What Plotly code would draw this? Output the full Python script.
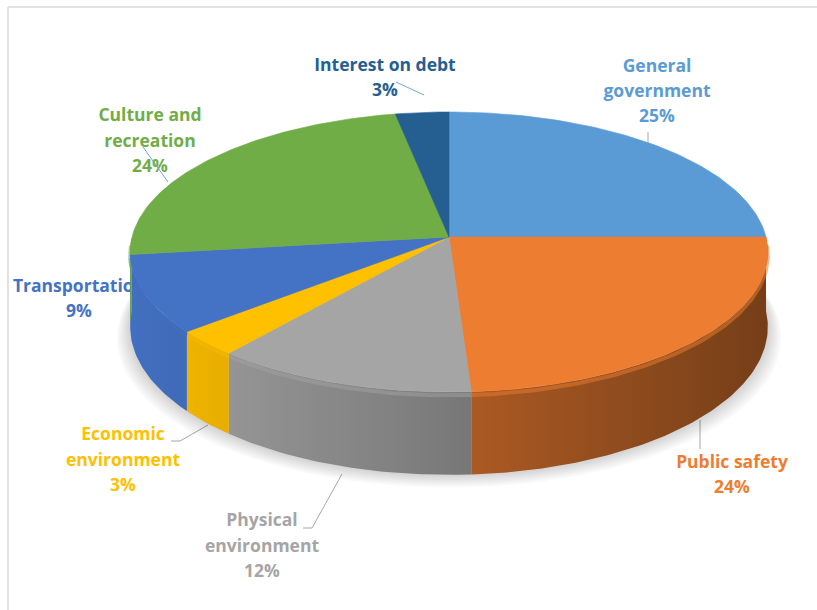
import numpy as np
import plotly.graph_objects as go

# ---- data -------------------------------------------------------------
categories = ["General government", "Public safety", "Physical environment",
              "Economic environment", "Transportation", "Culture and recreation",
              "Interest on debt"]
shares = [25, 24, 12, 3, 9, 24, 3]
slice_colors = ["#5B9BD5", "#ED7D31", "#A5A5A5", "#FFC000", "#4472C4", "#70AD47", "#255E91"]

# label text split into the lines it is drawn on
label_lines = [
    ["General", "government", "25%"],
    ["Public safety", "24%"],
    ["Physical", "environment", "12%"],
    ["Economic", "environment", "3%"],
    ["Transportation", "9%"],
    ["Culture and", "recreation", "24%"],
    ["Interest on debt", "3%"],
]

# ---- layout of the drawing (pixel space) ------------------------------
W, H = 817, 610
CX, CY = 449, 237        # pie centre on screen
RX, RY = 317, 138.4      # radii of the top face
K = 0.107                # perspective strength (near edge larger)
DEPTH = 74               # thickness of the disc

label_pos = [  # (x centre, y of first line, line step)
    (657, 68, 25),
    (732, 464, 25),
    (262, 522, 25.5),
    (123, 436, 25.5),
    (79, 288, 25),
    (150, 117, 25.5),
    (385, 67, 25),
]
leaders = [  # polylines joining labels to slices
    ([648, 648], [132, 146], "#A6A6A6"),
    ([700, 700], [420, 449], "#A6A6A6"),
    ([303, 312, 342], [528, 528, 474], "#A6A6A6"),
    ([171, 180, 208], [441, 441, 425], "#A6A6A6"),
    ([396, 424], [82, 95], "#6FA8DC"),
]
culture_leader = ([143, 168], [147, 182], "#6FA8DC")


def project(theta, drop=0.0):
    """Angle measured clockwise from the far side of the disc -> screen x, y."""
    u = np.sin(theta)
    v = -np.cos(theta)
    s = 1.0 / (1.0 - K * v)
    return CX + RX * u * s, CY + (RY * v + drop) * s


def shade(hex_color, f):
    h = hex_color.lstrip("#")
    r, g, b = (int(h[i:i + 2], 16) for i in (0, 2, 4))
    return "rgb(%d,%d,%d)" % (min(255, r * f), min(255, g * f), min(255, b * f))


def side_factor(u):
    # light comes from the left: wall darkens towards the right
    return 0.74 - 0.24 * u


fig = go.Figure()

# labels first so the disc can sit over them
tx, ty, tt, tc = [], [], [], []
for lines, (x0, y0, step), col in zip(label_lines, label_pos, slice_colors):
    for j, line in enumerate(lines):
        tx.append(x0)
        ty.append(y0 + j * step)
        tt.append(line)
        tc.append(col)
fig.add_trace(go.Scatter(
    x=tx, y=ty, text=tt, mode="text", textposition="middle center",
    textfont=dict(family="Open Sans", size=17.5, color=tc, weight="bold"),
    hoverinfo="skip", showlegend=False))

for xs, ys, col in leaders:
    fig.add_trace(go.Scatter(x=xs, y=ys, mode="lines", line=dict(color=col, width=1),
                             hoverinfo="skip", showlegend=False))

# soft shadow under the disc
full = np.linspace(0, 2 * np.pi, 240)
for j in range(7, 0, -1):
    sx, sy = project(full, DEPTH + 1.6 * j)
    sx = CX + (sx - CX) * (1 + 0.006 * j)
    fig.add_trace(go.Scatter(x=sx, y=sy, mode="lines", fill="toself",
                             fillcolor="rgba(0,0,0,0.022)", line=dict(width=0),
                             hoverinfo="skip", showlegend=False))

# slice angles
fractions = np.array(shares, dtype=float) / sum(shares)
edges = np.concatenate([[0.0], np.cumsum(fractions)]) * 2 * np.pi

# side wall: only the near half (pi/2 .. 3pi/2) is visible
ustops = np.linspace(-1, 1, 9)
for i, col in enumerate(slice_colors):
    a0 = max(edges[i], np.pi / 2)
    a1 = min(edges[i + 1], 3 * np.pi / 2)
    if a1 <= a0:
        continue
    seg = np.linspace(a0, a1, max(6, int((a1 - a0) * 60)))
    xt, yt = project(seg)
    xb, yb = project(seg[::-1], DEPTH)
    scale = [[(u + 1) / 2, shade(col, side_factor(u))] for u in ustops]
    fig.add_trace(go.Scatter(
        x=np.concatenate([xt, xb]), y=np.concatenate([yt, yb]),
        mode="lines", fill="toself",
        fillgradient=dict(type="horizontal", colorscale=scale,
                          start=CX - RX, stop=CX + RX),
        line=dict(width=0), hoverinfo="skip", showlegend=False))
    # lighter rim just under the top edge, kept inside the wall's outline
    r0 = a0 + (0.04 if a0 <= np.pi / 2 + 1e-9 else 0.0)
    r1 = a1 - (0.04 if a1 >= 3 * np.pi / 2 - 1e-9 else 0.0)
    rim = np.linspace(r0, r1, len(seg))
    rx_, ry_ = project(rim, 3)
    fig.add_trace(go.Scatter(x=rx_, y=ry_, mode="lines",
                             line=dict(color=shade(col, 0.97), width=4),
                             opacity=0.55, hoverinfo="skip", showlegend=False))

# top faces
for i, (name, col) in enumerate(zip(categories, slice_colors)):
    arc = np.linspace(edges[i], edges[i + 1], max(4, int(shares[i] * 4)))
    ax, ay = project(arc)
    fig.add_trace(go.Scatter(
        x=np.concatenate([[CX], ax, [CX]]), y=np.concatenate([[CY], ay, [CY]]),
        mode="lines", fill="toself", fillcolor=col, line=dict(color=col, width=0.6),
        name=name, hoverinfo="name", showlegend=False))

# leader drawn across the culture label
xs, ys, col = culture_leader
fig.add_trace(go.Scatter(x=xs, y=ys, mode="lines", line=dict(color=col, width=1),
                         hoverinfo="skip", showlegend=False))

fig.update_layout(
    width=W, height=H, autosize=False,
    margin=dict(l=0, r=0, t=0, b=0),
    paper_bgcolor="white", plot_bgcolor="white",
    xaxis=dict(range=[0, W], visible=False, fixedrange=True),
    yaxis=dict(range=[H, 0], visible=False, fixedrange=True),
    shapes=[
        dict(type="line", xref="x", yref="y", x0=8, y0=7, x1=W, y1=7,
             line=dict(color="#D9D9D9", width=1.5)),
        dict(type="line", xref="x", yref="y", x0=8, y0=7, x1=8, y1=H,
             line=dict(color="#D9D9D9", width=1.5)),
    ],
)

fig.write_html("out.html")
